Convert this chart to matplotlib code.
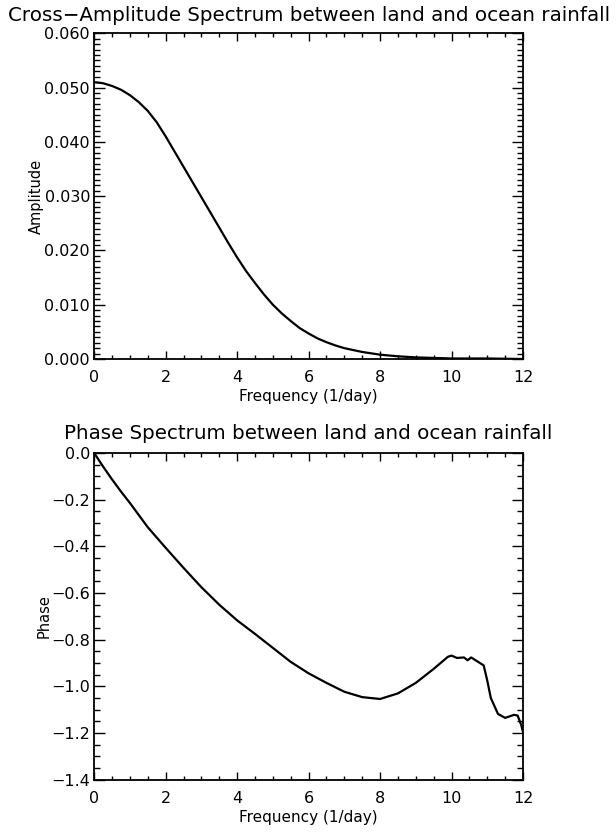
import matplotlib
matplotlib.use("Agg")
import matplotlib.pyplot as plt
from matplotlib.ticker import MultipleLocator, FormatStrFormatter

# Cross-amplitude spectrum (land vs ocean rainfall)
amp_freq = [0.00, 0.25, 0.50, 0.75, 1.00, 1.25, 1.50, 1.75, 2.00, 2.25,
            2.50, 2.75, 3.00, 3.25, 3.50, 3.75, 4.00, 4.25, 4.50, 4.75,
            5.00, 5.25, 5.50, 5.75, 6.00, 6.25, 6.50, 6.75, 7.00, 7.50,
            8.00, 8.50, 9.00, 9.50, 10.0, 11.0, 12.0]
amplitude = [0.0510, 0.0508, 0.0503, 0.0496, 0.0486, 0.0473, 0.0457, 0.0436,
             0.0410, 0.0382, 0.0354, 0.0326, 0.0298, 0.0270, 0.0242, 0.0214,
             0.0187, 0.0162, 0.0140, 0.0119, 0.0100, 0.0084, 0.0070, 0.0057,
             0.0047, 0.0038, 0.0031, 0.0025, 0.0020, 0.0013, 0.0008, 0.0005,
             0.0003, 0.0002, 0.0001, 0.0001, 0.0000]

# Phase spectrum (land vs ocean rainfall)
phase_freq = [0.00, 0.25, 0.50, 0.75, 1.00, 1.50, 2.00, 2.50, 3.00, 3.50,
              4.00, 4.50, 5.00, 5.50, 6.00, 6.50, 7.00, 7.50, 8.00, 8.50,
              9.00, 9.50, 9.90, 10.00, 10.15, 10.35, 10.45, 10.55, 10.90,
              11.00, 11.10, 11.30, 11.50, 11.75, 11.85, 11.95, 12.00]
phase = [0.000, -0.058, -0.113, -0.165, -0.214, -0.318, -0.406, -0.492,
         -0.575, -0.650, -0.717, -0.775, -0.835, -0.895, -0.944, -0.985,
         -1.023, -1.046, -1.054, -1.030, -0.985, -0.925, -0.873, -0.868,
         -0.878, -0.876, -0.888, -0.876, -0.910, -0.975, -1.050, -1.118,
         -1.135, -1.122, -1.125, -1.165, -1.195]

plt.rcParams['font.family'] = ['DejaVu Sans']

fig = plt.figure(figsize=(6.16, 8.33), dpi=100)
ax1 = fig.add_axes([0.153, 0.569, 0.696, 0.391])
ax2 = fig.add_axes([0.153, 0.064, 0.696, 0.392])


def style_axes(ax, ymajor, yminor):
    ax.set_xlim(0, 12)
    ax.xaxis.set_major_locator(MultipleLocator(2))
    ax.xaxis.set_minor_locator(MultipleLocator(0.5))
    ax.yaxis.set_major_locator(MultipleLocator(ymajor))
    ax.yaxis.set_minor_locator(MultipleLocator(yminor))
    ax.tick_params(axis='both', which='both', direction='in',
                   top=True, right=True, labelsize=11.5, width=1.0,
                   color='black', labelcolor='black')
    ax.tick_params(axis='y', which='major', length=8, pad=3)
    ax.tick_params(axis='y', which='minor', length=4)
    ax.tick_params(axis='x', which='major', length=6, pad=8)
    ax.tick_params(axis='x', which='minor', length=3)
    for sp in ax.spines.values():
        sp.set_linewidth(1.3)
    ax.set_xlabel('Frequency (1/day)', fontsize=11, labelpad=3)


ax1.plot(amp_freq, amplitude, color='black', lw=1.6)
ax1.set_ylim(0.0, 0.060)
style_axes(ax1, 0.010, 0.001)
ax1.yaxis.set_major_formatter(FormatStrFormatter('%.3f'))
ax1.set_ylabel('Amplitude', fontsize=10.5, labelpad=0)
ax1.set_title('Cross\u2212Amplitude Spectrum between land and ocean rainfall',
              fontsize=14.3, pad=9)

ax2.plot(phase_freq, phase, color='black', lw=1.6)
ax2.set_ylim(-1.4, 0.0)
style_axes(ax2, 0.2, 0.05)
ax2.yaxis.set_major_formatter(
    plt.FuncFormatter(lambda v, p: ('%.1f' % v).replace('-', '\u2212')
                      if abs(v) > 1e-9 else '0.0'))
ax2.set_ylabel('Phase', fontsize=10.5, labelpad=0)
ax2.set_title('Phase Spectrum between land and ocean rainfall',
              fontsize=14.3, pad=10)

fig.savefig('out.png', dpi=100, facecolor='white')
